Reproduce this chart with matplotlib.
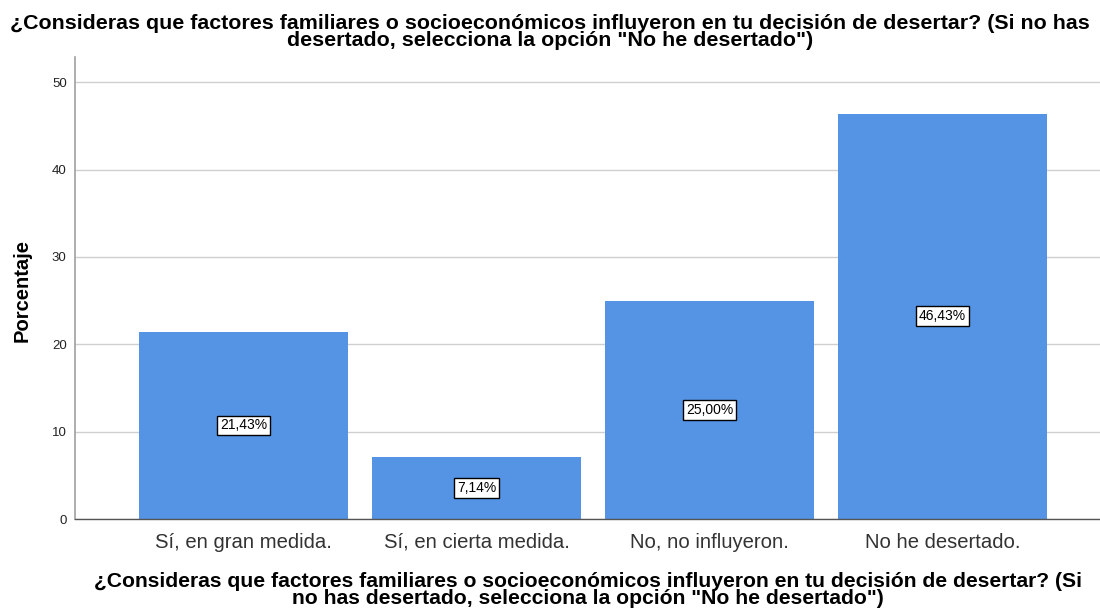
import matplotlib
matplotlib.use("Agg")
import matplotlib.pyplot as plt

plt.rcParams['font.family'] = ['Liberation Sans', 'DejaVu Sans']

categories = ["Sí, en gran medida.", "Sí, en cierta medida.", "No, no influyeron.", "No he desertado."]
values = [21.43, 7.14, 25.00, 46.43]
labels = ["21,43%", "7,14%", "25,00%", "46,43%"]
yticks = [0, 10, 20, 30, 40, 50]
title = ("¿Consideras que factores familiares o socioeconómicos influyeron en tu decisión de desertar? (Si no has\n"
         "desertado, selecciona la opción \"No he desertado\")")
xlabel = ("¿Consideras que factores familiares o socioeconómicos influyeron en tu decisión de desertar? (Si\n"
          "no has desertado, selecciona la opción \"No he desertado\")")
ylabel = "Porcentaje"

fig = plt.figure(figsize=(11, 6.1), dpi=100)
W, H = 1100, 610
left, right, top, bottom = 75, 1100, 57, 519
ax = fig.add_axes([left / W, 1 - bottom / H, (right - left) / W, (bottom - top) / H])

x = list(range(len(categories)))
ax.bar(x, values, width=0.897, color='#5594E4', zorder=2)
ax.set_xlim(-0.723, 3.676)
ax.set_ylim(0, 52.9)
ax.set_yticks(yticks)
ax.set_xticks(x)
ax.set_xticklabels(categories, fontsize=14.6, color='#333333')
ax.tick_params(axis='x', length=0, pad=10)
ax.tick_params(axis='y', length=0, labelsize=9.5, pad=6, labelcolor='#222222')
ax.grid(axis='y', color='#cfcfcf', linewidth=1, zorder=0)
for s in ['top', 'right']:
    ax.spines[s].set_visible(False)
ax.spines['left'].set_color('#a0a0a0')
ax.spines['left'].set_linewidth(1.2)
ax.spines['bottom'].set_color('#555555')
ax.spines['bottom'].set_linewidth(1)

for xi, v, lab in zip(x, values, labels):
    ax.text(xi, v / 2, lab, ha='center', va='center', fontsize=10, color='black', zorder=3,
            bbox=dict(boxstyle='square,pad=0.2', facecolor='white', edgecolor='black', linewidth=1))

fig.text(0.5, 1 - 32 / H, title, ha='center', va='center', fontsize=15.4, fontweight='bold', linespacing=0.9)
fig.text((left + right) / 2 / W, 1 - 590 / H, xlabel, ha='center', va='center', fontsize=15.2,
         fontweight='bold', linespacing=0.9)
fig.text(22 / W, 1 - 290 / H, ylabel, ha='center', va='center', rotation=90, fontsize=14.5, fontweight='bold')

fig.savefig("out.png", dpi=100)
